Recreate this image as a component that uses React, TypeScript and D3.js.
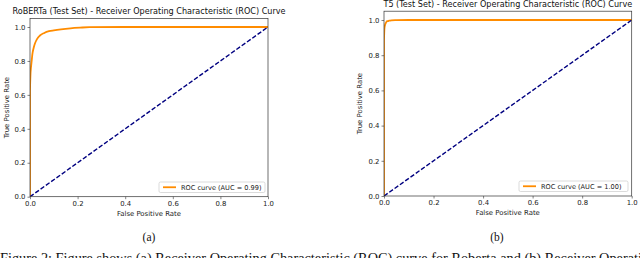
import React, { useEffect, useRef } from 'react';
import * as d3 from 'd3';

// ROC points (false positive rate, true positive rate)
const robertaFpr = [0, 0, 0.002, 0.004, 0.007, 0.01, 0.015, 0.02, 0.03, 0.042, 0.06, 0.08, 0.1, 0.13, 0.17, 0.21, 0.25, 0.4, 0.6, 0.8, 1.0];
const robertaTpr = [0, 0.62, 0.72, 0.76, 0.8, 0.84, 0.875, 0.9, 0.93, 0.95, 0.965, 0.975, 0.98, 0.986, 0.992, 0.996, 0.999, 1.0, 1.0, 1.0, 1.0];

const t5Fpr = [0, 0, 0.001, 0.002, 0.004, 0.007, 0.01, 0.015, 0.02, 0.03, 0.05, 0.1, 0.3, 0.6, 1.0];
const t5Tpr = [0, 0.88, 0.93, 0.955, 0.97, 0.982, 0.99, 0.994, 0.996, 0.998, 0.999, 1.0, 1.0, 1.0, 1.0];

const tickValues = [0, 0.2, 0.4, 0.6, 0.8, 1.0];

const FONT = '"DejaVu Sans", sans-serif';
const SERIF = '"Liberation Serif", serif';

interface PanelProps {
  title: string;
  fpr: number[];
  tpr: number[];
  aucLabel: string;
  left: number;
  right: number;
  yZero: number;
  yOne: number;
  titleY: number;
  yLabelX: number;
  legend: { x: number; y: number; w: number; h: number };
}

const RocPanel: React.FC<PanelProps> = ({ title, fpr, tpr, aucLabel, left, right, yZero, yOne, titleY, yLabelX, legend }) => {
  const gRef = useRef<SVGGElement | null>(null);

  const xScale = d3.scaleLinear().domain([0, 1]).range([left, right]);
  const yScale = d3.scaleLinear().domain([0, 1]).range([yZero, yOne]);
  const top = yScale(1.05);

  useEffect(() => {
    if (!gRef.current) return;
    const g = d3.select(gRef.current);
    g.selectAll('*').remove();

    const xAxis = d3.axisBottom(xScale).tickValues(tickValues).tickFormat(d3.format('.1f')).tickSize(2.5).tickPadding(2);
    const yAxis = d3.axisLeft(yScale).tickValues(tickValues).tickFormat(d3.format('.1f')).tickSize(2.5).tickPadding(2);

    const xa = g.append('g').attr('transform', `translate(0,${yZero})`).call(xAxis);
    const ya = g.append('g').attr('transform', `translate(${left},0)`).call(yAxis);
    [xa, ya].forEach(a => {
      a.select('.domain').remove();
      a.selectAll('text').style('font-family', FONT).style('font-size', '6.9px').attr('fill', '#222');
      a.selectAll('line').attr('stroke', '#333').attr('stroke-width', 0.6);
    });
  }, [left, right, yZero, yOne]);

  const pts: [number, number][] = fpr.map((f, i) => [f, tpr[i]]);
  const line = d3
    .line<[number, number]>()
    .x(d => xScale(d[0]))
    .y(d => yScale(d[1]))
    .curve(d3.curveMonotoneX);

  const diag = d3
    .line<number>()
    .x(d => xScale(d))
    .y(d => yScale(d));

  return (
    <g>
      <defs>
        <clipPath id={`clip-${left}`}>
          <rect x={left} y={top} width={right - left} height={yZero - top} />
        </clipPath>
      </defs>
      <text x={(left + right) / 2} y={titleY} textAnchor="middle" style={{ fontFamily: FONT, fontSize: '8.1px' }} fill="#111">
        {title}
      </text>
      <g clipPath={`url(#clip-${left})`}>
        <path d={line(pts) ?? ''} fill="none" stroke="#ff8c00" strokeWidth={1.8} />
        <path d={diag([0, 1]) ?? ''} fill="none" stroke="#000080" strokeWidth={1.4} strokeDasharray="4.5,2" />
      </g>
      <rect x={left} y={top} width={right - left} height={yZero - top} fill="none" stroke="#333" strokeWidth={0.7} />
      <g ref={gRef} />
      <text x={(left + right) / 2} y={yZero + 19} textAnchor="middle" style={{ fontFamily: FONT, fontSize: '6.9px' }} fill="#222">
        False Positive Rate
      </text>
      <text
        transform={`translate(${yLabelX},${(top + yZero) / 2}) rotate(-90)`}
        textAnchor="middle"
        style={{ fontFamily: FONT, fontSize: '6.9px' }}
        fill="#222"
      >
        True Positive Rate
      </text>
      <rect x={legend.x} y={legend.y} width={legend.w} height={legend.h} rx={1.5} fill="#fff" fillOpacity={0.8} stroke="#ccc" strokeWidth={0.7} />
      <line x1={legend.x + 4} x2={legend.x + 17} y1={legend.y + legend.h / 2} y2={legend.y + legend.h / 2} stroke="#ff8c00" strokeWidth={1.8} />
      <text x={legend.x + 22} y={legend.y + legend.h / 2 + 2.4} style={{ fontFamily: FONT, fontSize: '6.6px' }} fill="#222">
        {aucLabel}
      </text>
    </g>
  );
};

const App: React.FC = () => {
  return (
    <div>
      <style>{'body{margin:0}'}</style>
      <svg width={640} height={258} style={{ display: 'block', background: '#fff' }}>
        <RocPanel
          title="RoBERTa (Test Set) - Receiver Operating Characteristic (ROC) Curve"
          fpr={robertaFpr}
          tpr={robertaTpr}
          aucLabel="ROC curve (AUC = 0.99)"
          left={30}
          right={268}
          yZero={196.7}
          yOne={27}
          titleY={14}
          yLabelX={9}
          legend={{ x: 159, y: 182, w: 106, h: 10.5 }}
        />
        <RocPanel
          title="T5 (Test Set) - Receiver Operating Characteristic (ROC) Curve"
          fpr={t5Fpr}
          tpr={t5Tpr}
          aucLabel="ROC curve (AUC = 1.00)"
          left={384}
          right={631.7}
          yZero={196}
          yOne={20}
          titleY={6.5}
          yLabelX={362}
          legend={{ x: 519, y: 181, w: 109, h: 10.5 }}
        />
        <text x={149} y={241} textAnchor="middle" style={{ fontFamily: SERIF, fontSize: '11.5px' }} fill="#111">
          (a)
        </text>
        <text x={497} y={241} textAnchor="middle" style={{ fontFamily: SERIF, fontSize: '11.5px' }} fill="#111">
          (b)
        </text>
        <text x={0} y={262.5} style={{ fontFamily: SERIF, fontSize: '14.3px' }} fill="#111">
          Figure 2: Figure shows (a) Receiver Operating Characteristic (ROC) curve for Roberta and (b) Receiver Operating
        </text>
      </svg>
    </div>
  );
};

export default App;
